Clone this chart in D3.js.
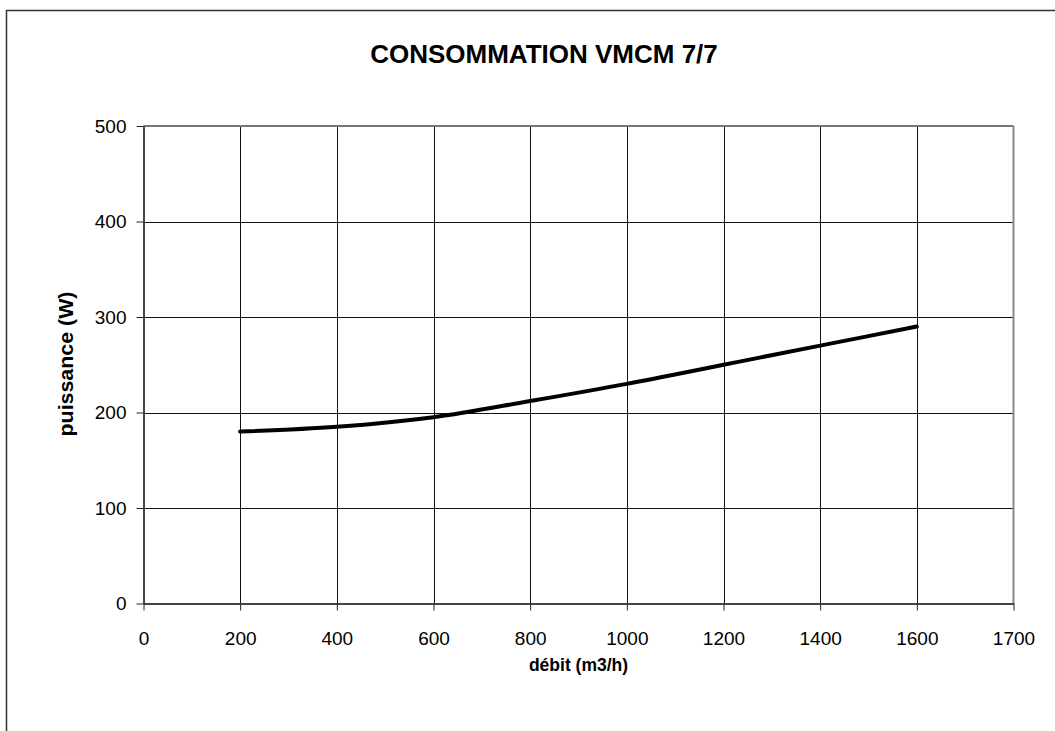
<!DOCTYPE html>
<html>
<head>
<meta charset="utf-8">
<script src="https://cdn.jsdelivr.net/npm/d3@7"></script>
<style>
  body { margin: 0; background: #fff; }
  text { font-family: "Liberation Sans", Arial, sans-serif; }
</style>
</head>
<body>
<div id="chart"></div>
<script>
var categories = ["0", "200", "400", "600", "800", "1000", "1200", "1400", "1600", "1700"];
var debit = [200, 400, 600, 800, 1000, 1200, 1400, 1600];
var puissance = [180, 185, 195, 212, 230, 250, 270, 290];
var yTicks = [0, 100, 200, 300, 400, 500];

var width = 1055, height = 731;
var plot = {left: 143.5, top: 126, right: 1013.5, bottom: 603.5};

var svg = d3.select("#chart")
  .append("svg")
    .attr("width", width)
    .attr("height", height);

// outer chart frame (runs off the right and bottom of the picture)
svg.append("rect")
    .attr("x", 6.5)
    .attr("y", 10.5)
    .attr("width", 1100)
    .attr("height", 800)
    .attr("fill", "#fff")
    .attr("stroke", "#333")
    .attr("stroke-width", 1.5);

var x = d3.scalePoint()
    .domain(categories)
    .range([plot.left, plot.right]);

var y = d3.scaleLinear()
    .domain([0, 500])
    .range([plot.bottom, plot.top]);

// gridlines
svg.append("g")
  .selectAll("line")
    .data(yTicks.slice(1, -1))
    .enter()
  .append("line")
    .attr("x1", plot.left)
    .attr("x2", plot.right)
    .attr("y1", function(d) { return Math.round(y(d)) + 0.5; })
    .attr("y2", function(d) { return Math.round(y(d)) + 0.5; })
    .attr("stroke", "#111")
    .attr("stroke-width", 1);

svg.append("g")
  .selectAll("line")
    .data(categories.slice(1, -1))
    .enter()
  .append("line")
    .attr("x1", function(d) { return Math.round(x(d)) + 0.5; })
    .attr("x2", function(d) { return Math.round(x(d)) + 0.5; })
    .attr("y1", plot.top)
    .attr("y2", plot.bottom)
    .attr("stroke", "#111")
    .attr("stroke-width", 1);

// plot area border: top and right in grey
svg.append("line")
    .attr("x1", plot.left).attr("x2", plot.right)
    .attr("y1", plot.top).attr("y2", plot.top)
    .attr("stroke", "#777").attr("stroke-width", 2);
svg.append("line")
    .attr("x1", plot.right).attr("x2", plot.right)
    .attr("y1", plot.top).attr("y2", plot.bottom)
    .attr("stroke", "#888").attr("stroke-width", 2);

// axes
var yAxis = svg.append("g")
    .attr("transform", "translate(" + plot.left + ",0)")
    .call(d3.axisLeft(y).tickValues(yTicks).tickSize(7).tickPadding(10).tickSizeOuter(0));

var xAxis = svg.append("g")
    .attr("transform", "translate(0," + plot.bottom + ")")
    .call(d3.axisBottom(x).tickSize(7).tickPadding(21).tickSizeOuter(0));

[yAxis, xAxis].forEach(function(g) {
  g.select(".domain").attr("stroke", "#444").attr("stroke-width", 2);
  g.selectAll(".tick line").attr("stroke", "#222");
  g.selectAll(".tick text")
      .attr("fill", "#000")
      .style("font-size", "19px")
      .style("font-family", "'Liberation Sans', Arial, sans-serif");
});

// series
var line = d3.line()
    .x(function(d, i) { return x(String(debit[i])); })
    .y(function(d) { return y(d); })
    .curve(d3.curveCatmullRom.alpha(0.5));

svg.append("path")
    .datum(puissance)
    .attr("fill", "none")
    .attr("stroke", "#000")
    .attr("stroke-width", 4)
    .attr("stroke-linejoin", "round")
    .attr("stroke-linecap", "round")
    .attr("d", line);

// titles
svg.append("text")
    .attr("x", 544)
    .attr("y", 63)
    .attr("text-anchor", "middle")
    .style("font-size", "26px")
    .style("font-weight", "bold")
    .text("CONSOMMATION VMCM 7/7");

svg.append("text")
    .attr("x", (plot.left + plot.right) / 2)
    .attr("y", 671)
    .attr("text-anchor", "middle")
    .style("font-size", "17.5px")
    .style("font-weight", "bold")
    .text("débit (m3/h)");

svg.append("text")
    .attr("transform", "translate(73,364) rotate(-90)")
    .attr("text-anchor", "middle")
    .attr("textLength", 145)
    .attr("lengthAdjust", "spacingAndGlyphs")
    .style("font-size", "20px")
    .style("font-weight", "bold")
    .text("puissance (W)");
</script>
</body>
</html>
